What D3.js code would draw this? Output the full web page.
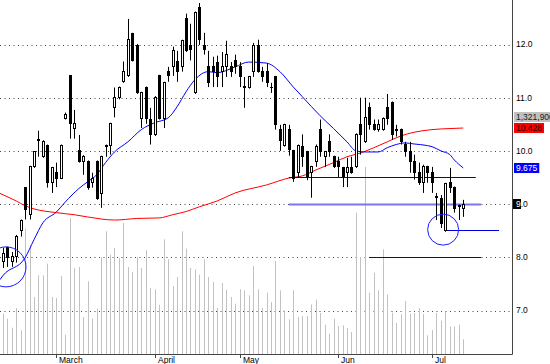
<!DOCTYPE html>
<html>
<head>
<meta charset="utf-8">
<script src="https://cdn.jsdelivr.net/npm/d3@7"></script>
<style>
body { margin: 0; background: #fff; }
svg { display: block; font-family: "Liberation Sans", Arial, sans-serif; }
</style>
</head>
<body>
<svg width="550" height="364"></svg>
<script>
// daily candles, one per trading day
var opens = [7.92,8.18,7.92,8.01,8.50,9.31,8.80,9.70,10.20,9.89,10.10,9.40,9.59,9.49,10.61,11.41,10.42,10.00,9.80,9.80,
  9.40,9.80,9.19,10.08,10.10,10.82,11.01,11.30,11.41,12.20,11.99,10.61,11.19,10.59,10.30,11.41,10.61,11.49,11.58,11.68,
  11.58,12.48,11.99,11.09,12.69,11.99,11.58,11.58,11.67,11.49,11.58,11.58,11.69,11.58,11.21,11.19,11.49,11.99,11.49,11.49,
  11.20,11.39,10.40,10.10,10.40,10.00,9.59,10.08,9.98,9.59,9.80,10.40,9.89,10.17,9.89,9.80,9.68,9.59,9.68,9.70,
  10.49,10.17,10.81,10.49,10.40,10.40,10.81,10.91,10.40,10.40,10.12,9.98,9.80,9.59,9.40,9.70,9.59,9.15,9.10,8.50,
  9.40,9.31,8.97,8.91];
var highs = [8.18,8.20,8.10,8.42,8.71,9.32,9.72,9.99,10.38,10.20,10.12,9.70,9.78,10.12,10.72,11.42,10.77,10.30,9.92,9.82,
  9.59,9.82,9.91,10.12,10.53,11.19,11.21,11.68,12.48,12.22,12.01,11.11,11.21,10.81,11.03,11.43,11.30,11.58,11.96,11.88,
  12.09,12.58,12.39,12.62,12.78,12.22,11.88,11.77,11.79,11.86,12.07,11.67,11.81,11.67,11.39,11.41,12.03,12.09,11.58,11.65,
  11.28,11.41,10.49,10.51,10.49,10.02,10.12,10.31,10.00,9.72,10.12,10.59,10.00,10.31,9.91,9.89,9.70,9.87,9.89,10.33,
  11.00,11.00,10.91,10.59,10.59,10.63,11.07,10.93,10.49,10.42,10.17,10.17,9.93,9.78,9.74,9.72,9.70,9.21,9.17,9.40,
  9.68,9.33,8.99,9.08];
var lows = [7.80,7.82,7.82,7.90,8.39,8.71,8.71,9.68,9.89,9.87,9.31,9.21,9.32,9.47,10.59,10.23,10.23,9.78,9.55,9.27,
  9.31,9.08,8.93,9.89,9.93,10.63,10.97,11.28,11.39,11.68,11.07,10.43,10.51,10.12,10.28,10.59,10.43,11.30,11.41,11.30,
  11.49,11.86,11.70,11.07,11.99,11.81,11.20,11.20,11.20,11.20,11.39,11.39,11.45,11.20,10.81,11.17,11.39,11.47,11.30,11.20,
  11.09,10.40,10.00,10.08,9.91,9.42,9.51,9.70,9.45,9.12,9.70,9.89,9.70,9.89,9.68,9.51,9.32,9.32,9.57,9.68,
  9.93,10.15,10.40,10.38,10.36,10.38,10.49,10.21,10.27,10.12,9.89,9.59,9.46,9.36,9.21,9.40,9.21,8.70,8.55,8.48,
  9.21,8.84,8.70,8.76];
var closes = [8.07,7.99,8.01,8.39,8.69,8.89,9.70,9.98,10.22,10.17,9.40,9.68,9.49,10.10,10.68,10.51,10.51,9.80,9.89,9.31,
  9.49,9.10,9.89,10.10,10.51,11.01,11.19,11.49,12.09,11.70,11.09,11.09,10.61,10.30,11.01,10.61,11.28,11.41,11.88,11.49,
  12.07,11.88,11.90,12.60,12.09,11.90,11.28,11.49,11.39,11.58,11.81,11.49,11.58,11.39,11.20,11.39,11.99,11.49,11.39,11.28,
  11.19,10.49,10.19,10.49,10.02,9.49,10.10,9.89,9.51,9.70,10.08,9.98,9.98,9.98,9.70,9.70,9.51,9.68,9.59,10.31,
  10.31,10.63,10.49,10.40,10.49,10.61,10.61,10.31,10.38,10.17,9.98,9.80,9.59,9.40,9.70,9.59,9.40,9.13,8.63,9.38,
  9.31,8.91,8.95,8.99];
// volume in thousands of shares
var volumes = [806,706,526,920,474,2506,2174,1140,1574,1574,1806,1140,1120,1560,386,2720,1720,1740,740,1454,
  706,906,1940,2454,1986,2120,1920,2620,1740,1640,1940,1720,2074,1320,1294,986,2294,1894,1360,1540,
  2454,2106,1720,1694,1586,1894,1540,1440,920,1420,1286,1140,1006,1294,1274,1174,1760,1294,920,1226,
  1040,1860,1274,874,694,1274,740,760,760,994,1086,820,586,406,706,560,574,520,440,2826,
  1940,3740,1226,1626,1274,2094,1186,826,620,800,1060,800,820,920,800,374,480,820,666,840,
  554,554,586,294];

// moving averages: [day index, price]
var fastMa = [[-0.6,7.58],[0,7.65],[5,7.99],[7,8.33],[9,8.65],[12,8.85],[14,9.04],[17,9.29],[19,9.42],[21,9.55],
  [23,9.78],[25,9.98],[28,10.17],[31,10.40],[34,10.53],[37,10.62],[39,10.83],[41,11.11],[43,11.34],[46,11.49],
  [48,11.47],[52,11.58],[55,11.67],[59,11.65],[62,11.49],[65,11.20],[67,11.02],[71,10.66],[74,10.42],[77,10.17],
  [79,10.00],[81,9.98],[84,9.98],[86,10.06],[88,10.12],[90,10.15],[92,10.13],[95,10.10],[96,10.08],[98,10.00],
  [100,9.93],[101,9.83],[103,9.68]];
var slowMa = [[-0.6,9.20],[3,9.06],[5,8.97],[7,8.91],[12,8.84],[16,8.80],[22,8.72],[25,8.70],[30,8.73],[35,8.74],
  [38,8.80],[41,8.86],[44,8.95],[48,9.06],[52,9.21],[59,9.36],[64,9.49],[67,9.53],[70,9.64],[74,9.78],
  [77,9.89],[80,9.96],[83,10.06],[86,10.17],[89,10.28],[92,10.35],[96,10.40],[100,10.42],[103,10.43]];

// drawn support lines and circles
var lineLevels = [9.51, 9.0, 8.51, 8.0];
var lineStarts = [64, 64, 99, 82];
var lineEnds = [105.8, 107, 111, 107];
var circleDays = [0.74, 98.5];
var circlePrices = [7.82, 8.52];

var monthTicks = [12, 34, 53, 75, 96];
var monthLabels = ['March', 'April', 'May', 'Jun', 'Jul'];
var priceTicks = [7, 8, 9, 10, 11, 12];
var tagValues = [10.63, 10.428, 9.675];
var tagTexts = ['1,321,900', '10.428', '9.675'];

var svg = d3.select('svg');
var plotW = 512, plotH = 354;

var x = d3.scaleLinear().domain([-0.6, 113.9]).range([0, plotW]);
var y = d3.scaleLinear().domain([7, 12]).range([310.5, 44.5]);
var yVol = d3.scaleLinear().domain([0, 4000]).range([plotH, plotH - 200]);
var px = function(i) { return Math.round(x(i)); };

svg.append('clipPath').attr('id', 'plot')
  .append('rect').attr('width', plotW).attr('height', plotH);

var plot = svg.append('g').attr('clip-path', 'url(#plot)');

// grid
plot.selectAll('.grid')
  .data(priceTicks)
  .enter().append('line')
  .attr('class', 'grid')
  .attr('x1', 0).attr('x2', plotW)
  .attr('y1', function(d) { return Math.round(y(d)) + 0.5; })
  .attr('y2', function(d) { return Math.round(y(d)) + 0.5; })
  .attr('stroke', '#444')
  .attr('stroke-dasharray', '1,3.5');

// volume
plot.selectAll('.vol')
  .data(volumes)
  .enter().append('line')
  .attr('class', 'vol')
  .attr('x1', function(d, i) { return px(i) + 0.5; })
  .attr('x2', function(d, i) { return px(i) + 0.5; })
  .attr('y1', plotH)
  .attr('y2', function(d) { return yVol(d); })
  .attr('stroke', '#c2c2c2')
  .attr('stroke-width', 1);

// moving averages
var maLine = d3.line()
  .x(function(d) { return x(d[0]); })
  .y(function(d) { return y(d[1]); })
  .curve(d3.curveMonotoneX);

plot.append('path').datum(slowMa)
  .attr('d', maLine).attr('fill', 'none').attr('stroke', '#ff0000');
plot.append('path').datum(fastMa)
  .attr('d', maLine).attr('fill', 'none').attr('stroke', '#0000ff');

// support lines
var lineColors = ['#0000c0', '#7878ee', '#0000e0', '#0000e0'];
var lineWidths = [1, 2, 1, 1];
plot.selectAll('.level')
  .data(lineLevels)
  .enter().append('line')
  .attr('class', 'level')
  .attr('x1', function(d, i) { return x(lineStarts[i]); })
  .attr('x2', function(d, i) { return x(lineEnds[i]); })
  .attr('y1', function(d) { return Math.round(y(d)) + 0.5; })
  .attr('y2', function(d) { return Math.round(y(d)) + 0.5; })
  .attr('stroke', function(d, i) { return lineColors[i]; })
  .attr('stroke-width', function(d, i) { return lineWidths[i]; });

// candles
var candle = plot.selectAll('.candle')
  .data(closes)
  .enter().append('g')
  .attr('class', 'candle');

candle.append('line')
  .attr('x1', function(d, i) { return px(i) + 0.5; })
  .attr('x2', function(d, i) { return px(i) + 0.5; })
  .attr('y1', function(d, i) { return y(highs[i]); })
  .attr('y2', function(d, i) { return y(lows[i]); })
  .attr('stroke', '#000');

candle.append('rect')
  .attr('x', function(d, i) { return px(i) - 0.5; })
  .attr('width', 2)
  .attr('y', function(d, i) { return y(Math.max(opens[i], d)); })
  .attr('height', function(d, i) { return Math.max(0.5, Math.abs(y(opens[i]) - y(d))); })
  .attr('fill', function(d, i) { return d >= opens[i] ? '#fff' : '#000'; })
  .attr('stroke', '#000')
  .attr('shape-rendering', 'crispEdges');

// circles
plot.selectAll('.ring')
  .data(circleDays)
  .enter().append('circle')
  .attr('class', 'ring')
  .attr('cx', function(d) { return x(d); })
  .attr('cy', function(d, i) { return y(circlePrices[i]); })
  .attr('r', function(d, i) { return i === 0 ? 20 : 15.5; })
  .attr('fill', 'none')
  .attr('stroke', '#1a1aff');

// axes frame
svg.append('line')
  .attr('x1', plotW + 0.5).attr('x2', plotW + 0.5)
  .attr('y1', 0).attr('y2', plotH + 0.5)
  .attr('stroke', '#444');
svg.append('line')
  .attr('x1', 0).attr('x2', plotW + 0.5)
  .attr('y1', plotH + 0.5).attr('y2', plotH + 0.5)
  .attr('stroke', '#444');

// months
svg.selectAll('.mtick')
  .data(monthTicks)
  .enter().append('line')
  .attr('x1', function(d) { return px(d) + 0.5; })
  .attr('x2', function(d) { return px(d) + 0.5; })
  .attr('y1', plotH).attr('y2', plotH + 4)
  .attr('stroke', '#444');

svg.selectAll('.mlabel')
  .data(monthTicks)
  .enter().append('text')
  .attr('x', function(d) { return px(d) + 3; })
  .attr('y', 362.5)
  .attr('font-size', 8.5)
  .text(function(d, i) { return monthLabels[i]; });

// price labels; the 9.0 one carries the last-close marker
var fmt = d3.format('.1f');
var lastTick = Math.round(closes[closes.length - 1]);
var lastY = Math.round(y(lastTick));
svg.append('rect')
  .attr('x', 513).attr('y', lastY - 5)
  .attr('width', 8).attr('height', 10)
  .attr('fill', '#000');

var plabel = svg.selectAll('.plabel')
  .data(priceTicks)
  .enter().append('text')
  .attr('class', 'plabel')
  .attr('x', 516)
  .attr('y', function(d) { return y(d); })
  .attr('dy', '0.35em')
  .attr('font-size', 8.5);

plabel.each(function(d) {
  var t = d3.select(this);
  var parts = fmt(d).split('.');
  t.append('tspan')
    .attr('fill', d === lastTick ? '#fff' : '#000')
    .text(parts[0]);
  t.append('tspan').attr('fill', '#000').text('.' + parts[1]);
});

// value tags
var tagBg = ['#c0c0c0', '#ff0000', '#0000ff'];
var tagFg = ['#202020', '#200000', '#ffffff'];
var tag = svg.selectAll('.tag')
  .data(tagValues)
  .enter().append('g')
  .attr('class', 'tag');

var tagBox = tag.append('rect')
  .attr('x', 514)
  .attr('y', function(d) { return Math.round(y(d)) - 5; })
  .attr('height', 10)
  .attr('fill', function(d, i) { return tagBg[i]; });

var tagLabel = tag.append('text')
  .attr('x', 516)
  .attr('y', function(d) { return y(d); })
  .attr('dy', '0.35em')
  .attr('font-size', 8.5)
  .attr('fill', function(d, i) { return tagFg[i]; })
  .text(function(d, i) { return tagTexts[i]; });

tagLabel.each(function(d, i) {
  var w = this.getComputedTextLength();
  d3.select(tagBox.nodes()[i]).attr('width', w + 4);
});
</script>
</body>
</html>
